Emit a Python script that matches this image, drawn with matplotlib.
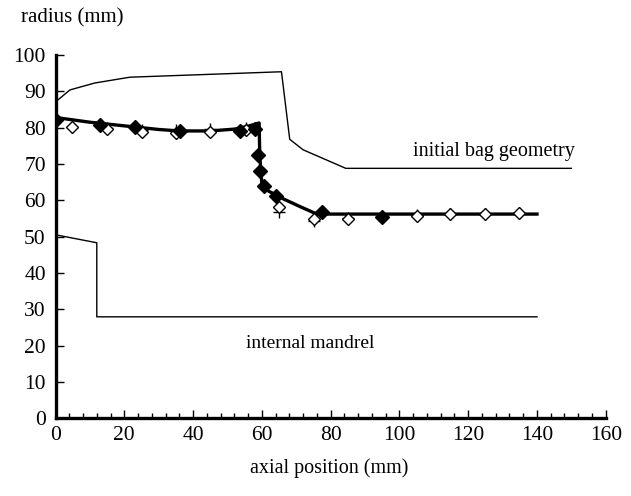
import numpy as np
import matplotlib
matplotlib.use("Agg")
from matplotlib import pyplot as plt
from matplotlib.ticker import MultipleLocator

plt.rcParams['font.family'] = ['Liberation Serif', 'DejaVu Serif']

# initial bag geometry (thin line)
bag_x = [0, 4.2, 11.4, 21.6, 65.7, 68.1, 72, 84.4, 150]
bag_y = [87.1, 90.4, 92.3, 93.9, 95.4, 76.8, 73.9, 68.8, 68.8]

# internal mandrel (thin line)
mandrel_x = [0, 12, 12, 140]
mandrel_y = [50.5, 48.3, 27.9, 27.9]

# simulated profile (bold line)
sim_x = [0, 10, 20, 30, 36, 45, 52, 56, 59.2, 59.4, 60, 62, 66, 71, 76, 140]
sim_y = [82.8, 81.5, 80.5, 79.5, 79.1, 79.1, 79.6, 80.4, 81.3, 72, 64.5, 62.5, 60.5, 58.3, 56.2, 56.2]

# measured, set 1 (filled diamonds)
m1_x = [0, 12.9, 23.1, 36.1, 53.6, 57.9, 58.9, 59.4, 60.5, 64.2, 77.6, 95]
m1_y = [82.1, 80.7, 80.1, 79.1, 79.2, 79.5, 72.5, 68.1, 63.9, 61.2, 56.7, 55.3]

# measured, set 2 (open diamonds)
m2_x = [4.8, 15.1, 25, 35, 45, 55.3, 65, 75.1, 85, 105, 114.8, 124.8, 134.8]
m2_y = [80.1, 79.5, 78.7, 78.4, 78.7, 79.3, 58.2, 54.8, 54.8, 55.7, 56.2, 56.2, 56.4]

# measured, set 3 (plus)
m3_x = [4.8, 15.1, 25, 35, 45, 55.3, 65, 75.1, 85, 105, 114.8, 124.8, 134.8]
m3_y = [80.3, 80.0, 79.4, 79.4, 79.7, 79.8, 56.9, 54.2, 55.0, 55.9, 56.2, 56.2, 56.5]

fig = plt.figure(figsize=(6.31, 4.96), dpi=100)
ax = fig.add_axes([0.088, 0.157, 0.872, 0.732])

ax.plot(bag_x, bag_y, color='black', lw=1.0)
ax.plot(mandrel_x, mandrel_y, color='black', lw=1.0)
ax.plot(sim_x, sim_y, color='black', lw=2.4)
ax.plot(m3_x, m3_y, linestyle='none', marker='+', ms=9, mew=1.0, color='black')
ax.plot(m2_x, m2_y, linestyle='none', marker='D', ms=6.5, mew=1.0, mfc='white', mec='black')
ax.plot(m1_x, m1_y, linestyle='none', marker='D', ms=7.5, color='black')

ax.set_xlim(0, 160)
ax.set_ylim(0, 100)
ax.xaxis.set_major_locator(MultipleLocator(20))
ax.xaxis.set_minor_locator(MultipleLocator(4))
ax.yaxis.set_major_locator(MultipleLocator(10))

for s in ['top', 'right']:
    ax.spines[s].set_visible(False)
for s in ['left', 'bottom']:
    ax.spines[s].set_linewidth(2.4)

ax.tick_params(axis='both', which='major', direction='in', length=6, width=1.0, labelsize=15.5)
ax.tick_params(axis='x', which='minor', direction='in', length=3.5, width=1.0)
ax.tick_params(axis='x', pad=6)
ax.tick_params(axis='y', pad=7)

ax.text(151, 70.8, 'initial bag geometry', fontsize=14.5, ha='right', va='bottom')
ax.text(74, 23, 'internal mandrel', fontsize=14, ha='center', va='top')

fig.text(0.034, 0.965, 'radius (mm)', fontsize=15, ha='left', va='center')
fig.text(0.522, 0.057, 'axial position (mm)', fontsize=14.5, ha='center', va='center')

fig.savefig('out.png', dpi=100)
